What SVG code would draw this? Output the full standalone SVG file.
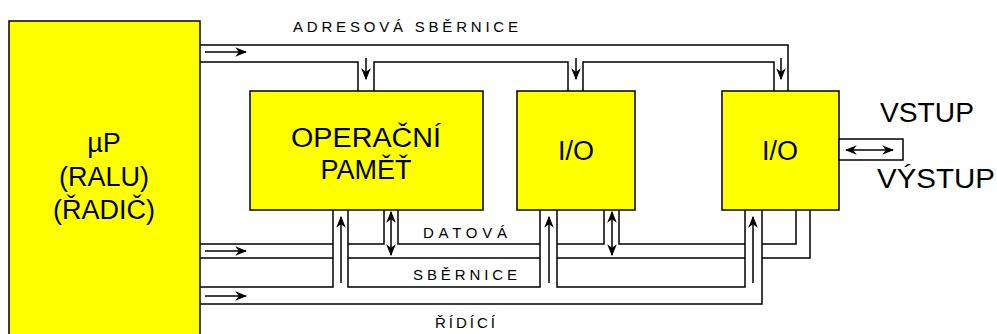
<svg xmlns="http://www.w3.org/2000/svg" width="997" height="334" viewBox="0 0 997 334">
<style>
.box{fill:#ffff00;stroke:#000;stroke-width:1.5}
.bus{fill:none;stroke:#000;stroke-width:1.5}
.arr{fill:none;stroke:#000;stroke-width:1.5}
.big{font-family:"Liberation Sans",Arial,sans-serif;font-size:27px;fill:#000;text-anchor:middle}
.lbl{font-family:"Liberation Sans",Arial,sans-serif;font-size:15px;fill:#000}
</style>
<defs>
<marker id="ah" viewBox="0 0 10 8" refX="9" refY="4" markerWidth="12" markerHeight="10" markerUnits="userSpaceOnUse" orient="auto-start-reverse">
<path d="M0,0 L10,4 L0,8 L3,4 z" fill="#000"/>
</marker>
</defs>
<rect width="997" height="334" fill="#fff"/>
<g id="cpu">
<rect class="box" x="9" y="21" width="191" height="330"/>
<text class="big" x="104" y="152">µP</text>
<text class="big" x="104" y="186">(RALU)</text>
<text class="big" x="104" y="219">(ŘADIČ)</text>
</g>
<g id="memory">
<rect class="box" x="250" y="91" width="233" height="119"/>
<text class="big" x="366" y="147" textLength="150" lengthAdjust="spacingAndGlyphs">OPERAČNÍ</text>
<text class="big" x="366" y="179">PAMĚŤ</text>
</g>
<g id="io1">
<rect class="box" x="517" y="91" width="118" height="119"/>
<text class="big" x="576" y="160">I/O</text>
</g>
<g id="io2">
<rect class="box" x="722" y="91" width="117" height="119"/>
<text class="big" x="780" y="160">I/O</text>
</g>
<g id="port">
<rect x="839" y="139" width="64" height="21" fill="#fff" stroke="#000" stroke-width="1.5"/>
<text class="big" x="927" y="122" textLength="94" lengthAdjust="spacingAndGlyphs">VSTUP</text>
<text class="big" x="936" y="188" textLength="118" lengthAdjust="spacingAndGlyphs">VÝSTUP</text>
</g>
<g id="connectors">
<path class="bus" d="M200,45 H788 V91 M200,62 H358 V91 M374,91 V62 H568 V91 M583,91 V62 H774 V91"/>
<path class="bus" d="M200,244 H333 M348,244 H384 V210 M398,210 V244 H540 M557,244 H604 V210 M619,210 V244 H745 M762,244 H796 V210"/>
<path class="bus" d="M200,258 H333 M348,258 H540 M557,258 H745 M762,258 H810 V210"/>
<path class="bus" d="M200,287 H333 V210 M348,210 V287 H540 V210 M557,210 V287 H745 V210 M200,304 H762 V210"/>
<path class="arr" marker-end="url(#ah)" d="M205,52 H246"/>
<path class="arr" marker-end="url(#ah)" d="M205,251 H246"/>
<path class="arr" marker-end="url(#ah)" d="M205,296 H246"/>
<path class="arr" marker-end="url(#ah)" d="M366,58 V79"/>
<path class="arr" marker-end="url(#ah)" d="M576,58 V79"/>
<path class="arr" marker-end="url(#ah)" d="M781,58 V79"/>
<path class="arr" marker-end="url(#ah)" d="M341,283 V217"/>
<path class="arr" marker-end="url(#ah)" d="M549,283 V217"/>
<path class="arr" marker-end="url(#ah)" d="M753,283 V217"/>
<path class="arr" marker-start="url(#ah)" marker-end="url(#ah)" d="M391,212 V255"/>
<path class="arr" marker-start="url(#ah)" marker-end="url(#ah)" d="M612,212 V255"/>
<path class="arr" marker-start="url(#ah)" marker-end="url(#ah)" d="M846,150 H893"/>
</g>
<g id="labels">
<text class="lbl" x="293" y="32" textLength="225" lengthAdjust="spacing">ADRESOVÁ SBĚRNICE</text>
<text class="lbl" x="423" y="238" textLength="84" lengthAdjust="spacing">DATOVÁ</text>
<text class="lbl" x="413" y="280" textLength="104" lengthAdjust="spacing">SBĚRNICE</text>
<text class="lbl" x="435" y="328" textLength="60" lengthAdjust="spacing">ŘÍDÍCÍ</text>
</g>
</svg>
